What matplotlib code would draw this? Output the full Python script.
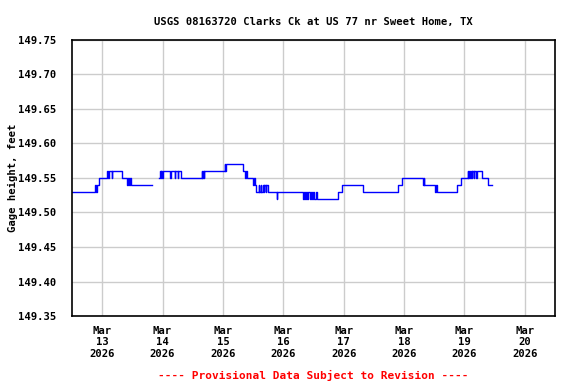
import numpy as np
import pandas as pd
import matplotlib
matplotlib.use("Agg")
import matplotlib.pyplot as plt
import matplotlib.dates as mdates

# gage height readings (step changes), hours after Mar 12 12:00
hours = [0.0, 9.1, 9.5, 9.9, 10.7, 13.9, 14.3, 14.7, 15.9, 16.1, 19.9, 21.9, 22.3, 22.7, 23.1, 23.5,
         31.8,
         34.6, 35.0, 35.2, 35.4, 35.8, 36.0, 39.0, 39.2, 40.9, 41.1, 42.1, 42.3, 43.3,
         51.5, 51.7, 52.1, 52.3, 52.5, 60.8, 61.0, 61.2, 68.0, 68.8, 69.0, 69.6,
         72.0, 72.4, 72.6, 73.2, 74.2, 74.3, 75.0, 75.1, 76.0, 76.3, 76.5, 77.1, 77.3, 77.9,
         81.5, 81.6, 91.8, 92.2, 92.6, 93.0, 93.4, 93.8, 94.6, 95.0, 95.4, 95.8, 96.4, 96.8,
         97.4, 105.7, 107.3, 115.7, 129.6, 131.2, 139.5, 139.9, 140.1, 144.3, 144.7, 145.1,
         153.0, 154.6, 157.4, 157.6, 158.0, 158.2, 158.6, 159.0, 159.2, 159.8, 160.0, 160.8,
         160.9, 163.0, 165.4, 167.0]
gage = [149.53, 149.54, 149.53, 149.54, 149.55, 149.56, 149.55, 149.56, 149.55, 149.56, 149.55,
        149.54, 149.55, 149.54, 149.55, 149.54,
        np.nan,
        149.55, 149.56, 149.55, 149.56, 149.55, 149.56, 149.55, 149.56, 149.55, 149.56, 149.55,
        149.56, 149.55,
        149.56, 149.55, 149.56, 149.55, 149.56, 149.57, 149.56, 149.57, 149.56, 149.55, 149.56,
        149.55,
        149.54, 149.55, 149.54, 149.53, 149.54, 149.53, 149.54, 149.53, 149.54, 149.53, 149.54,
        149.53, 149.54, 149.53,
        149.52, 149.53, 149.52, 149.53, 149.52, 149.53, 149.52, 149.53, 149.52, 149.53, 149.52,
        149.53, 149.52, 149.53,
        149.52, 149.53, 149.54, 149.53, 149.54, 149.55, 149.54, 149.55, 149.54, 149.53, 149.54,
        149.53,
        149.54, 149.55, 149.56, 149.55, 149.56, 149.55, 149.56, 149.55, 149.56, 149.55, 149.56,
        149.55, 149.56, 149.55, 149.54, 149.54]

start = pd.Timestamp("2026-03-12 12:00")
times = start + pd.to_timedelta(hours, unit="h")

mono = "DejaVu Sans Mono"
fs = 7.6

fig = plt.figure(figsize=(5.76, 3.84), dpi=100)
ax = fig.add_axes([0.125, 0.177, 0.8385, 0.719])

ax.plot(times, gage, color="#0000ff", linewidth=1.0, drawstyle="steps-post")

ax.set_xlim(start, start + pd.Timedelta(days=8))
ax.set_ylim(149.35, 149.75)
ax.set_yticks(np.arange(149.35, 149.751, 0.05))
ax.yaxis.set_major_formatter(matplotlib.ticker.FormatStrFormatter("%.2f"))
ax.xaxis.set_major_locator(mdates.DayLocator())
ax.xaxis.set_major_formatter(mdates.DateFormatter("%b\n%d\n%Y"))

ax.grid(True, color="#cccccc", linewidth=1.0)
ax.set_axisbelow(True)
ax.tick_params(axis="x", length=0, pad=7)
ax.tick_params(axis="y", length=0, pad=11)
for lab in ax.get_xticklabels() + ax.get_yticklabels():
    lab.set_fontfamily(mono)
    lab.set_fontweight("bold")
    lab.set_fontsize(fs)
for sp in ax.spines.values():
    sp.set_linewidth(1.2)
    sp.set_color("black")

ax.set_ylabel("Gage height, feet", fontfamily=mono, fontweight="bold", fontsize=fs, labelpad=0)
ax.set_title("USGS 08163720 Clarks Ck at US 77 nr Sweet Home, TX",
             fontfamily=mono, fontweight="bold", fontsize=fs, pad=11)
fig.text(0.544, 0.012, "---- Provisional Data Subject to Revision ----",
         color="red", fontfamily=mono, fontweight="bold", fontsize=8, ha="center")

fig.savefig("out.png", dpi=100)
